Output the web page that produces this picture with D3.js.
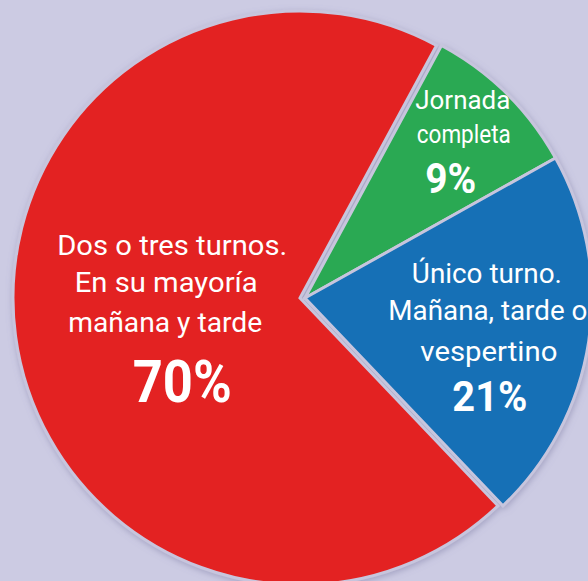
<!DOCTYPE html>
<html>
<head>
<meta charset="utf-8">
<script src="https://cdn.jsdelivr.net/npm/d3@7"></script>
<style>
  html, body { margin: 0; padding: 0; background: #cccbe3; }
  svg { display: block; }
  text { font-family: "Roboto", "DejaVu Sans Condensed", sans-serif; fill: #ffffff; }
</style>
</head>
<body>
<svg id="chart" width="588" height="581"></svg>
<script>
// Distribution of school schedules (percent of schools)
const categories = [
  ["Jornada", "completa"],
  ["Único turno.", "Mañana, tarde o", "vespertino"],
  ["Dos o tres turnos.", "En su mayoría", "mañana y tarde"]
];
const values = [9, 21, 70];
const colors = ["#2aa952", "#136fb6", "#e32322"];

// Slice offsets (pulled-out slices) and label block layout: anchor radius along
// each slice's mid-angle, then per-line offsets, fitted widths and font sizes.
const sliceShift = [[5, 0], [5, 0], [0, 0]];
const labelRadius = [219, 190, 133];
const labelSize = [26, 27, 28];
const lineLayout = [
  [{dx: 4, dy: -33, w: 95}, {dx: 5, dy: 1, w: 94}],
  [{dx: -6, dy: -43, w: 150}, {dx: -5, dy: -6, w: 199}, {dx: -4, dy: 35, w: 137}],
  [{dx: 4, dy: -61, w: 230}, {dx: -2, dy: -24, w: 183}, {dx: -3, dy: 16, w: 194}]
];
const pctLayout = [
  {dx: -8, dy: 51, w: 51, size: 43},
  {dx: -3, dy: 85, w: 75, size: 42},
  {dx: 14, dy: 86, w: 99, size: 60}
];

const cx = 300, cy = 298, radius = 287;
const startDeg = 28.4;

const svg = d3.select("#chart");
const defs = svg.append("defs");
const shadow = defs.append("filter").attr("id", "shadow")
  .attr("x", "-10%").attr("y", "-10%").attr("width", "120%").attr("height", "120%");
shadow.append("feDropShadow")
  .attr("dx", 1).attr("dy", 2).attr("stdDeviation", 3)
  .attr("flood-color", "#7d7aa3").attr("flood-opacity", 0.5);

const pie = d3.pie().sort(null)
  .startAngle(startDeg * Math.PI / 180)
  .endAngle(startDeg * Math.PI / 180 + 2 * Math.PI);
const arcs = pie(values);
const arc = d3.arc().innerRadius(0).outerRadius(radius);

const g = svg.append("g").attr("transform", `translate(${cx},${cy})`);

g.append("g").attr("filter", "url(#shadow)")
  .selectAll("path").data(arcs).join("path")
  .attr("transform", (d, i) => `translate(${sliceShift[i][0]},${sliceShift[i][1]})`)
  .attr("d", arc)
  .attr("fill", (d, i) => colors[i])
  .attr("stroke", "#c7c5dd")
  .attr("stroke-width", 3)
  .attr("stroke-linejoin", "miter");

const labels = g.append("g").selectAll("g").data(arcs).join("g")
  .attr("transform", (d, i) => {
    const c = d3.arc().innerRadius(labelRadius[i]).outerRadius(labelRadius[i]).centroid(d);
    return `translate(${c[0] + sliceShift[i][0]},${c[1] + sliceShift[i][1]})`;
  });

labels.each(function(d, i) {
  const sel = d3.select(this);
  categories[i].forEach((line, j) => {
    const L = lineLayout[i][j];
    sel.append("text")
      .attr("x", L.dx).attr("y", L.dy)
      .attr("text-anchor", "middle")
      .attr("font-size", labelSize[i])
      .attr("textLength", L.w)
      .attr("lengthAdjust", "spacingAndGlyphs")
      .text(line);
  });
  const P = pctLayout[i];
  sel.append("text")
    .attr("x", P.dx).attr("y", P.dy)
    .attr("text-anchor", "middle")
    .attr("font-size", P.size)
    .attr("font-weight", 700)
    .attr("textLength", P.w)
    .attr("lengthAdjust", "spacingAndGlyphs")
    .text(values[i] + "%");
});
</script>
</body>
</html>
